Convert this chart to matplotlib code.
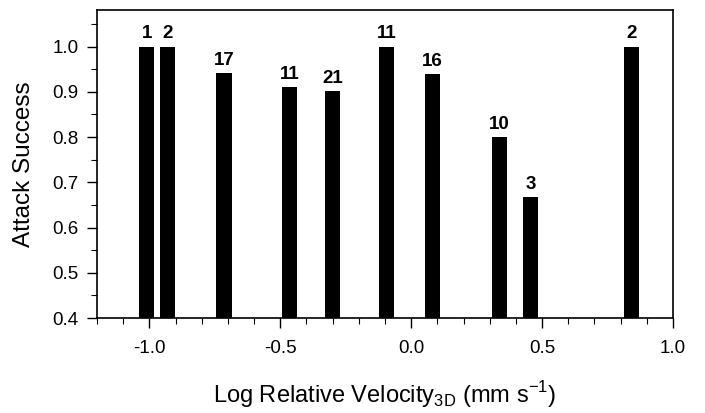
import matplotlib
matplotlib.use("Agg")
import matplotlib.pyplot as plt
from matplotlib.ticker import MultipleLocator

plt.rcParams['font.family'] = ['Liberation Sans', 'DejaVu Sans']
plt.rcParams['mathtext.fontset'] = 'custom'
plt.rcParams['mathtext.rm'] = 'Liberation Sans'

log_velocity = [-1.01, -0.93, -0.715, -0.465, -0.30, -0.095, 0.08, 0.337, 0.457, 0.843]
attack_success = [1.0, 1.0, 0.941, 0.911, 0.901, 1.0, 0.94, 0.80, 0.667, 1.0]
n_labels = ['1', '2', '17', '11', '21', '11', '16', '10', '3', '2']

fig = plt.figure(figsize=(7.05, 4.13), dpi=100)
ax = fig.add_axes([0.1376, 0.23, 0.817, 0.746])

ax.bar(log_velocity, [v - 0.4 for v in attack_success], bottom=0.4,
       width=0.058, color='black', edgecolor='black', linewidth=0)

for x, y, lab in zip(log_velocity, attack_success, n_labels):
    ax.annotate(lab, (x, y), xytext=(0, 3), textcoords='offset points',
                ha='center', va='bottom', fontsize=13.5, fontweight='bold')

ax.set_xlim(-1.2, 1.0)
ax.set_ylim(0.4, 1.081)
ax.xaxis.set_major_locator(MultipleLocator(0.5))
ax.xaxis.set_minor_locator(MultipleLocator(0.1))
ax.yaxis.set_major_locator(MultipleLocator(0.1))
ax.yaxis.set_minor_locator(MultipleLocator(0.05))
ax.xaxis.set_major_formatter(plt.FormatStrFormatter('%.1f'))
ax.yaxis.set_major_formatter(plt.FormatStrFormatter('%.1f'))

ax.tick_params(which='major', direction='out', length=7.5, width=1, labelsize=13.5)
ax.tick_params(which='minor', direction='out', length=4, width=0.8)
ax.tick_params(axis='x', which='major', pad=8)
ax.tick_params(axis='y', which='major', pad=6)
for sp in ax.spines.values():
    sp.set_linewidth(1.2)

ax.set_xlabel(r'Log Relative Velocity$_{\mathrm{3D}}$ (mm s$^{\mathrm{-1}}$)', fontsize=17)
ax.set_ylabel('Attack Success', fontsize=17.5)
ax.xaxis.set_label_coords(0.5, -0.198)
ax.yaxis.set_label_coords(-0.108, 0.5)

fig.savefig('out.png', dpi=100)
